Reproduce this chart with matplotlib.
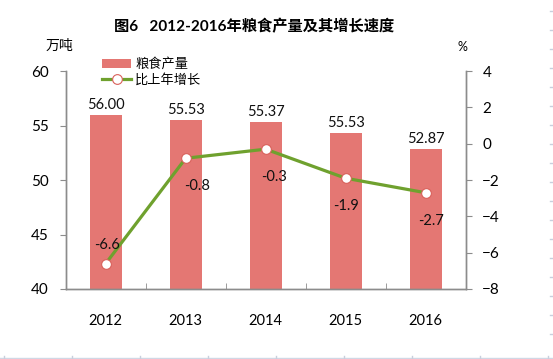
import matplotlib
matplotlib.use("Agg")
import matplotlib.pyplot as plt
from matplotlib.lines import Line2D
import numpy as np

plt.rcParams['font.family'] = ['Lato', 'Noto Sans CJK SC', 'DejaVu Sans']

years = ['2012', '2013', '2014', '2015', '2016']
output = [56.00, 55.53, 55.37, 54.30, 52.87]
output_labels = ['56.00', '55.53', '55.37', '55.53', '52.87']
growth = [-6.6, -0.8, -0.3, -1.9, -2.7]
growth_labels = ['-6.6', '-0.8', '-0.3', '-1.9', '-2.7']

bar_color = '#E47773'
line_color = '#6FA12E'
axis_color = '#8C8C8C'

fig = plt.figure(figsize=(5.53, 3.59), dpi=100)
ax = fig.add_axes([0.1188, 0.195, 0.7233, 0.607])
ax2 = ax.twinx()

x = np.arange(len(years))
bars = ax.bar(x, output, width=0.4, color=bar_color, label='粮食产量', zorder=2)
ax.set_xlim(-0.5, len(years) - 0.5)
ax.set_ylim(40, 60)
ax.set_yticks([40, 45, 50, 55, 60])
for xi, v, t in zip(x, output, output_labels):
    ax.annotate(t, (xi, v), xytext=(0, 2), textcoords='offset points',
                ha='center', va='bottom', fontsize=10.5, color='#111111')

ln, = ax2.plot(x, growth, color=line_color, lw=2.3, marker='o', markersize=7,
               markerfacecolor='white', markeredgecolor='#D9605A', markeredgewidth=0.8,
               label='比上年增长', zorder=3)
ax2.set_ylim(-8, 4)
ax2.set_yticks([-8, -6, -4, -2, 0, 2, 4])
offsets = [(1, 8), (8, -15), (6, -15), (0, -15), (4, -15)]
for xi, v, t, off in zip(x, growth, growth_labels, offsets):
    ax2.annotate(t, (xi, v), xytext=off, textcoords='offset points',
                 ha='center', va='bottom' if off[1] > 0 else 'top',
                 fontsize=10.5, color='#111111')

for a in (ax, ax2):
    a.spines['top'].set_visible(False)
    for s in ('left', 'right', 'bottom'):
        a.spines[s].set_color(axis_color)
        a.spines[s].set_linewidth(1.0)

ax.set_xticks(x)
ax.set_xticklabels(years)
ax.tick_params(axis='x', which='major', length=0, pad=18, labelsize=10.5)
ax.set_xticks([0.5, 1.5, 2.5, 3.5], minor=True)
ax.tick_params(axis='x', which='minor', direction='in', length=4, color=axis_color)
ax.tick_params(axis='y', direction='out', length=4, color=axis_color, pad=8, labelsize=11)
ax2.tick_params(axis='y', direction='out', length=4, color=axis_color, pad=8, labelsize=11)

fig.text(0.46, 0.925, '图6   2012-2016年粮食产量及其增长速度', ha='center', va='center',
         fontsize=11, fontweight='bold', color='black')
fig.text(0.108, 0.873, '万吨', ha='center', va='center', fontsize=10)
fig.text(0.836, 0.868, '%', ha='center', va='center', fontsize=9)

fig.legend(handles=[bars, ln], loc='upper left', bbox_to_anchor=(0.175, 0.855),
           frameon=False, fontsize=9.5, handlelength=2.2, handletextpad=0.3,
           labelspacing=0.2, borderaxespad=0)

# faint sheet grid lines at the edges
fig.add_artist(Line2D([0, 1], [1 - 357.5 / 359] * 2, color='#D0D7E5', lw=1))
for px in range(4, 553, 68):
    fig.add_artist(Line2D([px / 553] * 2, [1 - 359 / 359, 1 - 356 / 359], color='#C8CFDD', lw=1))
for py in range(11, 350, 19):
    fig.add_artist(Line2D([550 / 553, 553 / 553], [1 - py / 359] * 2, color='#C8CFDD', lw=1))

fig.savefig('out.png', dpi=100)
